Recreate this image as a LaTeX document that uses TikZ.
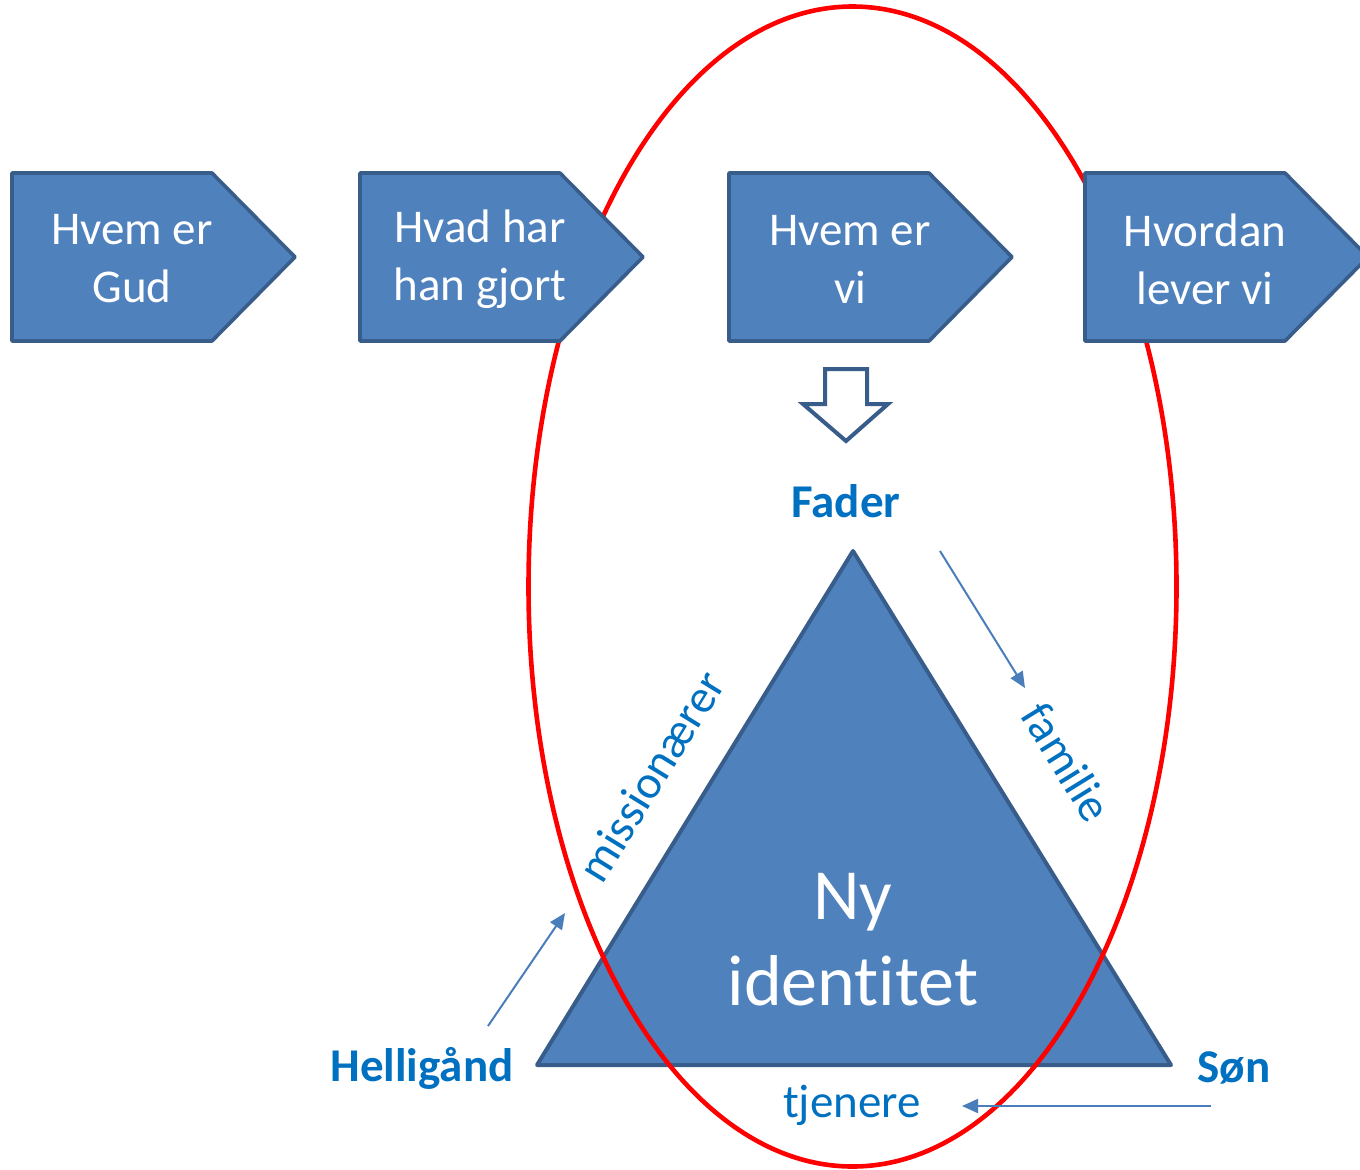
\documentclass[tikz,border=0pt]{standalone}
\usepackage{fontspec}
\setmainfont{Carlito}[Ligatures=NoCommon]
\usetikzlibrary{arrows.meta}
\definecolor{boxfill}{HTML}{4F81BD}
\definecolor{boxline}{HTML}{385D8A}
\definecolor{labelblue}{HTML}{0070C0}
\definecolor{arrowblue}{HTML}{4A7EBB}
\definecolor{ellred}{HTML}{FF0000}
\tikzset{
  homebox/.style={fill=boxfill, draw=boxline, line width=1.8pt, line join=round},
  boxtext/.style={text=white, align=center, font=\fontsize{23.5}{29}\selectfont, inner sep=0pt},
  persontext/.style={text=labelblue, font=\bfseries\fontsize{23.5}{28}\selectfont, inner sep=0pt},
  roletext/.style={text=labelblue, font=\fontsize{23.5}{28}\selectfont, inner sep=0pt},
  thinarrow/.style={draw=arrowblue, line width=1pt, -{Triangle[length=8pt,width=7pt]}},
}
\begin{document}
\begin{tikzpicture}[x=0.5pt,y=-0.5pt]
\useasboundingbox (0,0) rectangle (1360,1169);
% triangle
\draw[fill=boxfill, draw=boxline, line width=2pt, line join=round] (853,551) -- (1171,1065) -- (537,1065) -- cycle;
% ellipse
\draw[ellred, line width=2.3pt] (852.5,586.5) ellipse [x radius=324, y radius=580];
% pentagons
\foreach \l in {12,360,729,1085}{
  \draw[homebox] (\l,173) -- (\l+200,173) -- (\l+283,257) -- (\l+200,341) -- (\l,341) -- cycle;
}
\node[boxtext] (b1) at (132,259) {Hvem er\\Gud};
\node[boxtext] (b2) at (480,259) {Hvad har\\han gjort};
\node[boxtext] (b3) at (850,259) {Hvem er\\vi};
\node[boxtext] (b4) at (1205,259) {Hvordan\\lever vi};
% hollow down arrow
\draw[fill=white, draw=boxline, line width=2pt, line join=miter] (825,369) -- (867,369) -- (867,404) -- (888,404) -- (846,441) -- (803,404) -- (825,404) -- cycle;
% labels
\node[persontext] (fader) at (846,501) {Fader};
\node[persontext] (helli) at (422,1068) {Helligånd};
\node[persontext] (son) at (1234,1068) {Søn};
\node[roletext] (tjen) at (852,1105) {tjenere};
\node[roletext, rotate=-58.3] (fam) at (1067,762) {familie};
\node[roletext, rotate=58.3] (miss) at (651,776) {missionærer};
\node[text=white, align=center, font=\fontsize{36}{43}\selectfont, inner sep=0pt] (ny) at (853,940) {Ny\\identitet};
% arrows
\coordinate (a1s) at (940,551); \coordinate (a1e) at (1025,688);
\coordinate (a2s) at (488,1026); \coordinate (a2e) at (565,913);
\coordinate (a3s) at (1211,1106); \coordinate (a3e) at (962,1106);
\draw[thinarrow] (a1s) -- (a1e);
\draw[thinarrow] (a2s) -- (a2e);
\draw[thinarrow] (a3s) -- (a3e);
\end{tikzpicture}
\end{document}
